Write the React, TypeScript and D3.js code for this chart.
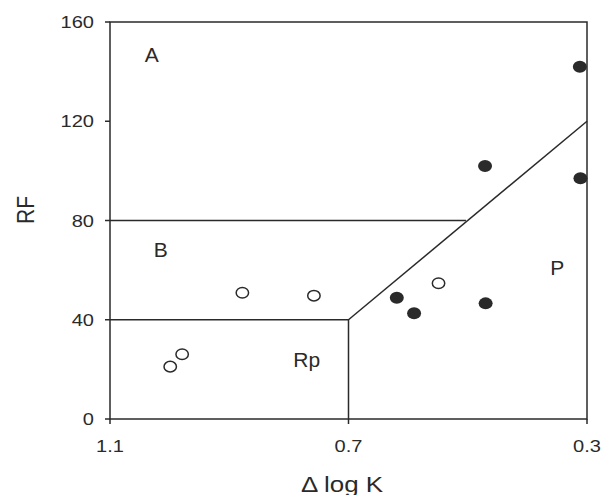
import React from "react";
import * as d3 from "d3";

const xTicks = [1.1, 0.7, 0.3];
const yTicks = [0, 40, 80, 120, 160];
const filledX = [0.312, 0.471, 0.311, 0.619, 0.59, 0.47];
const filledY = [142, 102, 97, 48.9, 42.6, 46.6];
const openX = [0.549, 0.878, 0.758, 0.979, 0.999];
const openY = [54.7, 50.9, 49.7, 26.1, 21.1];
const regionLabels = ["A", "B", "Rp", "P"];
const regionLabelX = [1.03, 1.015, 0.77, 0.35];
const regionLabelY = [147, 68.5, 24, 61];
// boundary polylines
const boundaryA_B_x = [1.1, 0.503];
const boundaryA_B_y = [80, 80];
const boundaryB_Rp_x = [1.1, 0.7, 0.7];
const boundaryB_Rp_y = [40, 40, 0];
const boundaryP_x = [0.7, 0.3];
const boundaryP_y = [40, 120];

export default function App() {
  const W = 604, H = 495;
  const left = 110, right = 587, top = 22, bottom = 419;
  const x = d3.scaleLinear().domain([1.1, 0.3]).range([left, right]);
  const y = d3.scaleLinear().domain([0, 160]).range([bottom, top]);
  const line = d3.line<[number, number]>().x(d => x(d[0])).y(d => y(d[1]));
  const zip = (a: number[], b: number[]) => a.map((v, i) => [v, b[i]] as [number, number]);
  const col = "#2a2a2a";
  const font = "Liberation Sans, Arial, sans-serif";
  const sx = 1.18;
  return (
    <svg width={W} height={H} style={{ position: "absolute", left: 0, top: 0, background: "#fff" }}>
      <rect x={0} y={0} width={W} height={H} fill="#fff" />
      {/* frame */}
      <rect x={left} y={top} width={right - left} height={bottom - top} fill="none" stroke={col} strokeWidth={1.5} />
      {/* y ticks */}
      {yTicks.map(t => (
        <g key={"y" + t}>
          <line x1={left - 5} x2={left} y1={y(t)} y2={y(t)} stroke={col} strokeWidth={1.5} />
          <text transform={`translate(${left - 16},${y(t)}) scale(${sx},1)`} dy="0.36em" textAnchor="end" fontFamily={font} fontSize={17} fill={col}>{t}</text>
        </g>
      ))}
      {/* x ticks */}
      {xTicks.map(t => (
        <g key={"x" + t}>
          <line x1={x(t)} x2={x(t)} y1={bottom} y2={bottom + 5} stroke={col} strokeWidth={1.5} />
          <text transform={`translate(${x(t)},${bottom + 27}) scale(${sx},1)`} dy="0.36em" textAnchor="middle" fontFamily={font} fontSize={17} fill={col}>{t.toFixed(1)}</text>
        </g>
      ))}
      {/* axis titles */}
      <text transform={`translate(342,484) scale(${sx},1)`} dy="0.36em" textAnchor="middle" fontFamily={font} fontSize={22} fill={col}>Δ log K</text>
      <text transform={`translate(25,210) rotate(-90) scale(1,${sx})`} dy="0.36em" textAnchor="middle" fontFamily={font} fontSize={21} fill={col}>RF</text>
      {/* boundaries */}
      <path d={line(zip(boundaryA_B_x, boundaryA_B_y)) || ""} fill="none" stroke={col} strokeWidth={1.5} />
      <path d={line(zip(boundaryB_Rp_x, boundaryB_Rp_y)) || ""} fill="none" stroke={col} strokeWidth={1.5} />
      <path d={line(zip(boundaryP_x, boundaryP_y)) || ""} fill="none" stroke={col} strokeWidth={1.5} />
      {/* region labels */}
      {regionLabels.map((l, i) => (
        <text key={l} x={x(regionLabelX[i])} y={y(regionLabelY[i])} dy="0.36em" textAnchor="middle" fontFamily={font} fontSize={21} fill={col}>{l}</text>
      ))}
      {/* points */}
      {filledX.map((v, i) => (
        <ellipse key={"f" + i} cx={x(v)} cy={y(filledY[i])} rx={7} ry={6} fill={col} />
      ))}
      {openX.map((v, i) => (
        <ellipse key={"o" + i} cx={x(v)} cy={y(openY[i])} rx={6.2} ry={5.3} fill="#fff" stroke={col} strokeWidth={1.5} />
      ))}
    </svg>
  );
}
